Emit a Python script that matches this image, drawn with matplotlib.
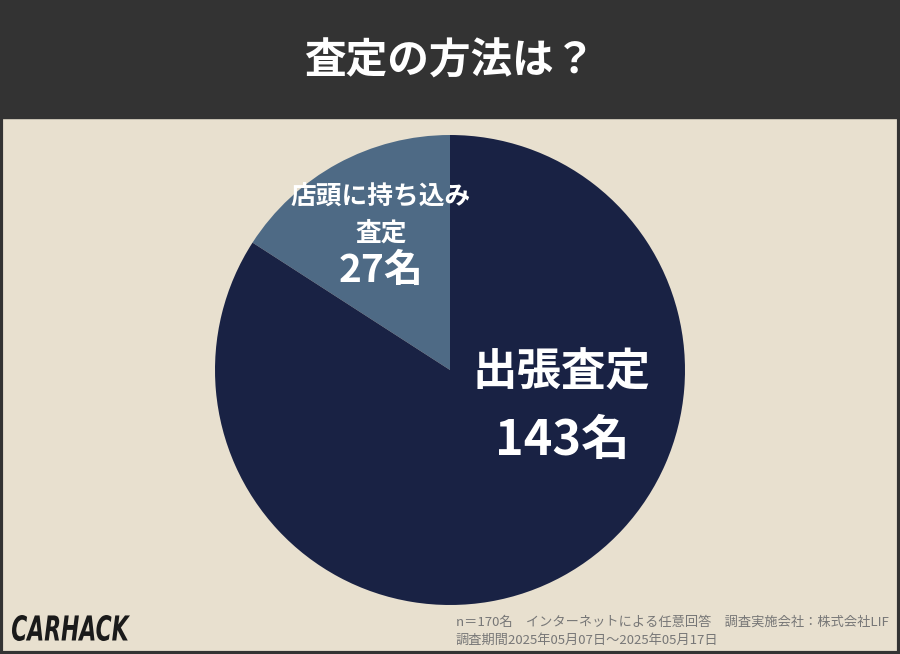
import matplotlib
matplotlib.use("Agg")
import matplotlib.pyplot as plt
from matplotlib.patches import Rectangle, PathPatch
from matplotlib.textpath import TextPath
from matplotlib.font_manager import FontProperties
from matplotlib.transforms import Affine2D

plt.rcParams['font.family'] = ['Noto Sans CJK JP', 'DejaVu Sans']

# data
title = '査定の方法は？'
labels = ['店頭に持ち込み\n査定', '出張査定']
counts = [27, 143]
colors = ['#4e6a85', '#192244']
note1 = 'n＝170名　インターネットによる任意回答　調査実施会社：株式会社LIF'
note2 = '調査期間2025年05月07日～2025年05月17日'
logo = 'CARHACK'

W, H = 900, 654
fig = plt.figure(figsize=(W / 100, H / 100), dpi=100)
fig.patch.set_facecolor('#e8e0cf')
ax = fig.add_axes([0, 0, 1, 1])

# header bar and frame
ax.add_patch(Rectangle((0, H - 118), W, 118, color='#333333', zorder=1))
ax.add_patch(Rectangle((1, 1.5), W - 2.5, H - 2.5, fill=False, ec='#333333', lw=3, zorder=5))
ax.text(W / 2, H - 62, title, color='white', fontsize=30, fontweight='bold',
        ha='center', va='center', zorder=3)

cx, cy, r = 450, H - 370, 235
ax.pie(counts, colors=colors, startangle=90, counterclock=True,
       center=(cx, cy), radius=r, frame=True,
       wedgeprops=dict(linewidth=0))
ax.set_xlim(0, W)
ax.set_ylim(0, H)
ax.set_aspect('equal')
ax.axis('off')

# labels
ax.text(381, H - 215, labels[0], color='white', fontsize=18.5, fontweight='bold',
        ha='center', va='center', linespacing=1.45)
ax.text(381, H - 270, f'{counts[0]}名', color='white', fontsize=28, fontweight='bold',
        ha='center', va='center')
ax.text(562, H - 372, labels[1], color='white', fontsize=32, fontweight='bold',
        ha='center', va='center')
ax.text(562, H - 440, f'{counts[1]}名', color='white', fontsize=35, fontweight='bold',
        ha='center', va='center')

# footnote
ax.text(456, H - 622, note1, color='#777777', fontsize=9.5, ha='left', va='center')
ax.text(456, H - 640, note2, color='#777777', fontsize=9.5, ha='left', va='center')

# logo, squeezed into a condensed box
fp = FontProperties(family='DejaVu Sans', weight='bold', style='italic')
tp = TextPath((0, 0), logo, size=30, prop=fp)
ext = tp.get_extents()
x0, x1, ytop, ybot = 12, 130, 615, 641
sx = (x1 - x0) / ext.width
sy = (ybot - ytop) / ext.height
tr = Affine2D().translate(-ext.x0, -ext.y0).scale(sx, sy).translate(x0, H - ybot)
ax.add_patch(PathPatch(tr.transform_path(tp), fc='#1a1a1a', ec='none', zorder=4))

fig.savefig('out.png', dpi=100, facecolor=fig.get_facecolor())
